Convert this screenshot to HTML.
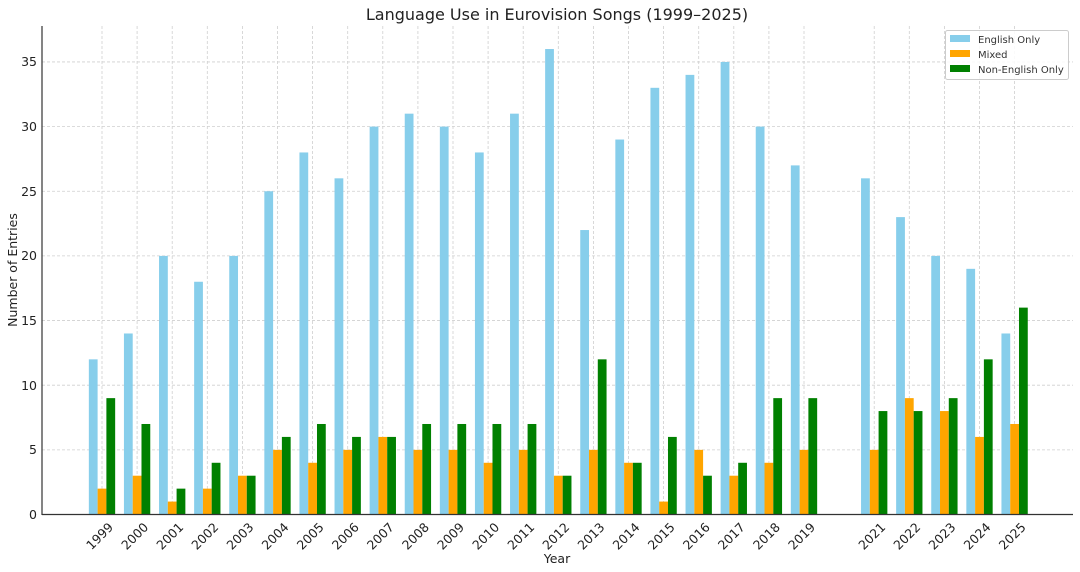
<!DOCTYPE html>
<html><head><meta charset="utf-8"><style>
body{margin:0;background:#fff}
svg{display:block;font-family:"DejaVu Sans","Liberation Sans",sans-serif}
</style></head><body>
<svg width="1080" height="572" viewBox="0 0 1080 572" xmlns="http://www.w3.org/2000/svg">
<rect width="1080" height="572" fill="#fff"/>
<g stroke="#cfcfcf" stroke-width="0.8" stroke-dasharray="3,2">
<line x1="42" x2="1073" y1="449.85" y2="449.85"/><line x1="42" x2="1073" y1="385.2" y2="385.2"/><line x1="42" x2="1073" y1="320.55" y2="320.55"/><line x1="42" x2="1073" y1="255.9" y2="255.9"/><line x1="42" x2="1073" y1="191.25" y2="191.25"/><line x1="42" x2="1073" y1="126.6" y2="126.6"/><line x1="42" x2="1073" y1="61.95" y2="61.95"/>
<line x1="102" x2="102" y1="26" y2="514"/><line x1="137.1" x2="137.1" y1="26" y2="514"/><line x1="172.2" x2="172.2" y1="26" y2="514"/><line x1="207.3" x2="207.3" y1="26" y2="514"/><line x1="242.4" x2="242.4" y1="26" y2="514"/><line x1="277.5" x2="277.5" y1="26" y2="514"/><line x1="312.6" x2="312.6" y1="26" y2="514"/><line x1="347.7" x2="347.7" y1="26" y2="514"/><line x1="382.8" x2="382.8" y1="26" y2="514"/><line x1="417.9" x2="417.9" y1="26" y2="514"/><line x1="453" x2="453" y1="26" y2="514"/><line x1="488.1" x2="488.1" y1="26" y2="514"/><line x1="523.2" x2="523.2" y1="26" y2="514"/><line x1="558.3" x2="558.3" y1="26" y2="514"/><line x1="593.4" x2="593.4" y1="26" y2="514"/><line x1="628.5" x2="628.5" y1="26" y2="514"/><line x1="663.6" x2="663.6" y1="26" y2="514"/><line x1="698.7" x2="698.7" y1="26" y2="514"/><line x1="733.8" x2="733.8" y1="26" y2="514"/><line x1="768.9" x2="768.9" y1="26" y2="514"/><line x1="804" x2="804" y1="26" y2="514"/><line x1="874.2" x2="874.2" y1="26" y2="514"/><line x1="909.3" x2="909.3" y1="26" y2="514"/><line x1="944.4" x2="944.4" y1="26" y2="514"/><line x1="979.5" x2="979.5" y1="26" y2="514"/><line x1="1014.6" x2="1014.6" y1="26" y2="514"/>
</g>
<g transform="translate(102,514.5) scale(35.1,-12.93)">
<g fill="#87ceeb">
<rect x="-0.375" width="0.25" height="12"/><rect x="0.625" width="0.25" height="14"/><rect x="1.625" width="0.25" height="20"/><rect x="2.625" width="0.25" height="18"/><rect x="3.625" width="0.25" height="20"/><rect x="4.625" width="0.25" height="25"/><rect x="5.625" width="0.25" height="28"/><rect x="6.625" width="0.25" height="26"/><rect x="7.625" width="0.25" height="30"/><rect x="8.625" width="0.25" height="31"/><rect x="9.625" width="0.25" height="30"/><rect x="10.625" width="0.25" height="28"/><rect x="11.625" width="0.25" height="31"/><rect x="12.625" width="0.25" height="36"/><rect x="13.625" width="0.25" height="22"/><rect x="14.625" width="0.25" height="29"/><rect x="15.625" width="0.25" height="33"/><rect x="16.625" width="0.25" height="34"/><rect x="17.625" width="0.25" height="35"/><rect x="18.625" width="0.25" height="30"/><rect x="19.625" width="0.25" height="27"/><rect x="21.625" width="0.25" height="26"/><rect x="22.625" width="0.25" height="23"/><rect x="23.625" width="0.25" height="20"/><rect x="24.625" width="0.25" height="19"/><rect x="25.625" width="0.25" height="14"/>
</g>
<g fill="#ffa500">
<rect x="-0.125" width="0.25" height="2"/><rect x="0.875" width="0.25" height="3"/><rect x="1.875" width="0.25" height="1"/><rect x="2.875" width="0.25" height="2"/><rect x="3.875" width="0.25" height="3"/><rect x="4.875" width="0.25" height="5"/><rect x="5.875" width="0.25" height="4"/><rect x="6.875" width="0.25" height="5"/><rect x="7.875" width="0.25" height="6"/><rect x="8.875" width="0.25" height="5"/><rect x="9.875" width="0.25" height="5"/><rect x="10.875" width="0.25" height="4"/><rect x="11.875" width="0.25" height="5"/><rect x="12.875" width="0.25" height="3"/><rect x="13.875" width="0.25" height="5"/><rect x="14.875" width="0.25" height="4"/><rect x="15.875" width="0.25" height="1"/><rect x="16.875" width="0.25" height="5"/><rect x="17.875" width="0.25" height="3"/><rect x="18.875" width="0.25" height="4"/><rect x="19.875" width="0.25" height="5"/><rect x="21.875" width="0.25" height="5"/><rect x="22.875" width="0.25" height="9"/><rect x="23.875" width="0.25" height="8"/><rect x="24.875" width="0.25" height="6"/><rect x="25.875" width="0.25" height="7"/>
</g>
<g fill="#008000">
<rect x="0.125" width="0.25" height="9"/><rect x="1.125" width="0.25" height="7"/><rect x="2.125" width="0.25" height="2"/><rect x="3.125" width="0.25" height="4"/><rect x="4.125" width="0.25" height="3"/><rect x="5.125" width="0.25" height="6"/><rect x="6.125" width="0.25" height="7"/><rect x="7.125" width="0.25" height="6"/><rect x="8.125" width="0.25" height="6"/><rect x="9.125" width="0.25" height="7"/><rect x="10.125" width="0.25" height="7"/><rect x="11.125" width="0.25" height="7"/><rect x="12.125" width="0.25" height="7"/><rect x="13.125" width="0.25" height="3"/><rect x="14.125" width="0.25" height="12"/><rect x="15.125" width="0.25" height="4"/><rect x="16.125" width="0.25" height="6"/><rect x="17.125" width="0.25" height="3"/><rect x="18.125" width="0.25" height="4"/><rect x="19.125" width="0.25" height="9"/><rect x="20.125" width="0.25" height="9"/><rect x="22.125" width="0.25" height="8"/><rect x="23.125" width="0.25" height="8"/><rect x="24.125" width="0.25" height="9"/><rect x="25.125" width="0.25" height="12"/><rect x="26.125" width="0.25" height="16"/>
</g>
</g>
<g stroke="#333" stroke-width="1.2"><line x1="42" x2="42" y1="26" y2="515"/><line x1="42" x2="1073" y1="514.5" y2="514.5"/></g>
<g font-size="12.5" fill="#222" text-anchor="end">
<text x="37" y="519">0</text><text x="37" y="454">5</text><text x="37" y="390">10</text><text x="37" y="325">15</text><text x="37" y="260">20</text><text x="37" y="196">25</text><text x="37" y="131">30</text><text x="37" y="66">35</text>
</g>
<g font-size="12.5" fill="#222" text-anchor="end">
<text transform="translate(114,528) rotate(-45)">1999</text><text transform="translate(149.1,528) rotate(-45)">2000</text><text transform="translate(184.2,528) rotate(-45)">2001</text><text transform="translate(219.3,528) rotate(-45)">2002</text><text transform="translate(254.4,528) rotate(-45)">2003</text><text transform="translate(289.5,528) rotate(-45)">2004</text><text transform="translate(324.6,528) rotate(-45)">2005</text><text transform="translate(359.7,528) rotate(-45)">2006</text><text transform="translate(394.8,528) rotate(-45)">2007</text><text transform="translate(429.9,528) rotate(-45)">2008</text><text transform="translate(465,528) rotate(-45)">2009</text><text transform="translate(500.1,528) rotate(-45)">2010</text><text transform="translate(535.2,528) rotate(-45)">2011</text><text transform="translate(570.3,528) rotate(-45)">2012</text><text transform="translate(605.4,528) rotate(-45)">2013</text><text transform="translate(640.5,528) rotate(-45)">2014</text><text transform="translate(675.6,528) rotate(-45)">2015</text><text transform="translate(710.7,528) rotate(-45)">2016</text><text transform="translate(745.8,528) rotate(-45)">2017</text><text transform="translate(780.9,528) rotate(-45)">2018</text><text transform="translate(816,528) rotate(-45)">2019</text><text transform="translate(886.2,528) rotate(-45)">2021</text><text transform="translate(921.3,528) rotate(-45)">2022</text><text transform="translate(956.4,528) rotate(-45)">2023</text><text transform="translate(991.5,528) rotate(-45)">2024</text><text transform="translate(1026.6,528) rotate(-45)">2025</text>
</g>
<text x="557" y="563" font-size="12.5" fill="#222" text-anchor="middle">Year</text>
<text transform="translate(17,270) rotate(-90)" font-size="12.5" fill="#222" text-anchor="middle">Number of Entries</text>
<text x="557" y="20" font-size="16" fill="#222" text-anchor="middle">Language Use in Eurovision Songs (1999–2025)</text>
<rect x="945.5" y="30.5" width="123" height="49" rx="2" fill="#fff" fill-opacity="0.85" stroke="#ccc"/>
<rect x="950" y="35" width="20" height="7" fill="#87ceeb"/><rect x="950" y="50" width="20" height="7" fill="#ffa500"/><rect x="950" y="65" width="20" height="7" fill="#008000"/>
<g font-size="10" fill="#333"><text x="978" y="43">English Only</text><text x="978" y="58">Mixed</text><text x="978" y="73">Non-English Only</text></g>
</svg>
</body></html>
